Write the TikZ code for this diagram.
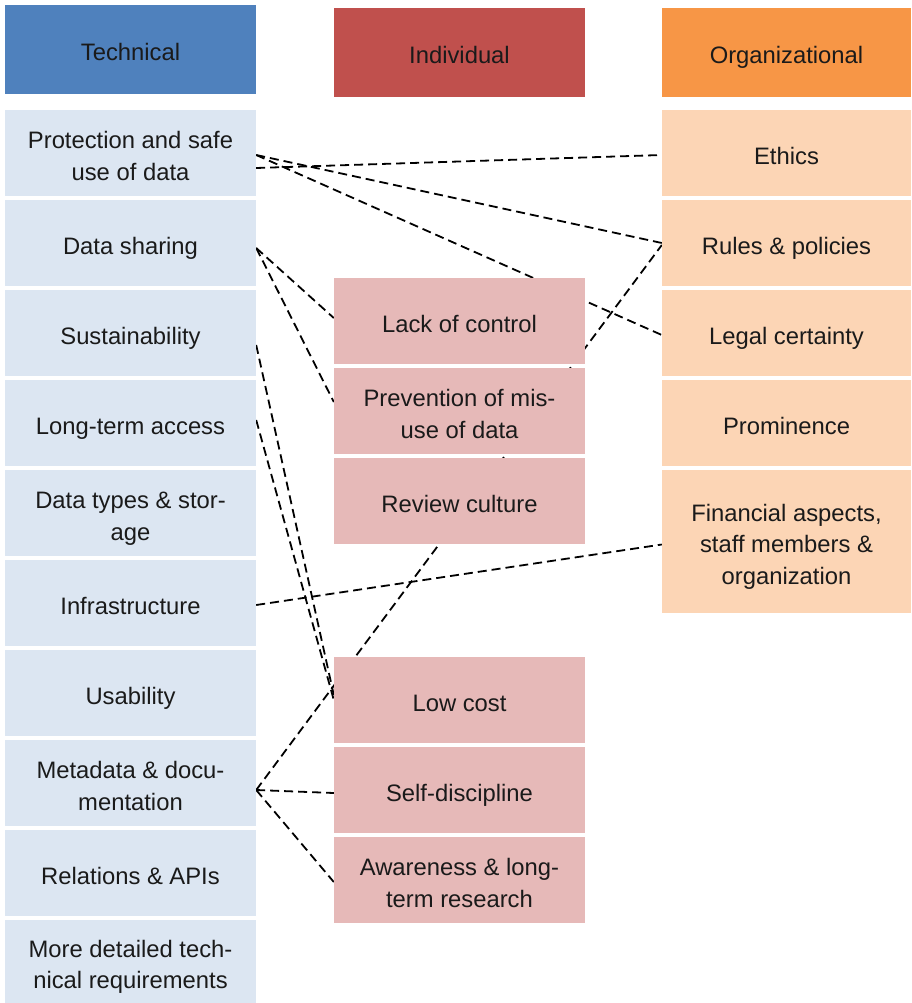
\documentclass[tikz,border=0pt]{standalone}
\usepackage{fontspec}
\setmainfont{Liberation Sans}
\usetikzlibrary{backgrounds}
\definecolor{thead}{HTML}{4F81BD}
\definecolor{tbox}{HTML}{DCE6F2}
\definecolor{ihead}{HTML}{C0504D}
\definecolor{ibox}{HTML}{E6B9B8}
\definecolor{ohead}{HTML}{F79646}
\definecolor{obox}{HTML}{FCD5B5}
\definecolor{txt}{HTML}{1A1A1A}
\newcommand\myTopStrut{\rule{0pt}{28.8pt}}
\tikzset{
  cell/.style={rectangle, inner sep=0pt, minimum width=251pt, minimum height=86pt,
    align=center, text=txt, font=\fontsize{23.8pt}{31.5pt}\selectfont,
    execute at begin node={\myTopStrut},
    execute at end node={\rule[-6pt]{0pt}{6pt}}},
  tcell/.style={cell, fill=tbox},
  icell/.style={cell, fill=ibox},
  ocell/.style={cell, fill=obox, minimum width=249pt},
  link/.style={draw=black, line width=1.8pt, dash pattern=on 9pt off 5pt}
}
\begin{document}
\begin{tikzpicture}[x=1pt,y=-1pt]
\useasboundingbox (0,0) rectangle (911,1003);
% headers
\node[cell, fill=thead, minimum height=89pt] (th) at (130.5,49.5) {Technical};
\node[cell, fill=ihead, minimum height=89pt] (ih) at (459.5,52.5) {Individual};
\node[cell, fill=ohead, minimum height=89pt, minimum width=249pt] (oh) at (786.5,52.5) {Organizational};
% technical
\node[tcell] (prot) at (130.5,153) {\myTopStrut Protection and safe\\use of data};
\node[tcell] (share) at (130.5,243) {Data sharing};
\node[tcell] (sust) at (130.5,333) {Sustainability};
\node[tcell] (long) at (130.5,423) {Long-term access};
\node[tcell] (types) at (130.5,513) {\myTopStrut Data types \& stor-\\age};
\node[tcell] (infra) at (130.5,603) {Infrastructure};
\node[tcell] (usab) at (130.5,693) {Usability};
\node[tcell] (meta) at (130.5,783) {\myTopStrut Metadata \& docu-\\mentation};
\node[tcell] (rel) at (130.5,873) {Relations \& APIs};
\node[tcell, minimum height=83pt] (more) at (130.5,961.5) {\myTopStrut More detailed tech-\\nical requirements};
% individual
\node[icell] (lack) at (459.5,321) {Lack of control};
\node[icell] (prev) at (459.5,411) {\myTopStrut Prevention of mis-\\use of data};
\node[icell] (rev) at (459.5,501) {Review culture};
\node[icell] (low) at (459.5,700) {Low cost};
\node[icell] (self) at (459.5,790) {Self-discipline};
\node[icell] (aware) at (459.5,880) {\myTopStrut Awareness \& long-\\term research};
% organizational
\node[ocell] (eth) at (786.5,153) {Ethics};
\node[ocell] (rules) at (786.5,243) {Rules \& policies};
\node[ocell] (legal) at (786.5,333) {Legal certainty};
\node[ocell] (prom) at (786.5,423) {Prominence};
\node[ocell, minimum height=143pt] (fin) at (786.5,541.5) {\myTopStrut Financial aspects,\\staff members \&\\organization};
% connectors
\begin{pgfonlayer}{background}
\draw[link] ([yshift=-2pt]prot.east) -- (rules.west);
\draw[link] ([yshift=-2pt]prot.east) -- ([yshift=-2pt]legal.west);
\draw[link] ([yshift=-15pt]prot.east) -- ([yshift=-2pt]eth.west);
\draw[link] ([yshift=-5pt]share.east) -- ([yshift=3pt]lack.west);
\draw[link] ([yshift=-5pt]share.east) -- ([yshift=9pt]prev.west);
\draw[link] ([yshift=-12pt]sust.east) -- ([yshift=5pt]low.west);
\draw[link] ([yshift=3pt]long.east) -- (low.west);
\draw[link] ([yshift=-2pt]infra.east) -- ([yshift=-3pt]fin.west);
\draw[link] ([yshift=-7pt]meta.east) -- ([yshift=-2pt]rules.west);
\draw[link] ([yshift=-7pt]meta.east) -- ([yshift=-3pt]self.west);
\draw[link] ([yshift=-7pt]meta.east) -- ([yshift=-2pt]aware.west);
\end{pgfonlayer}
\end{tikzpicture}
\end{document}
